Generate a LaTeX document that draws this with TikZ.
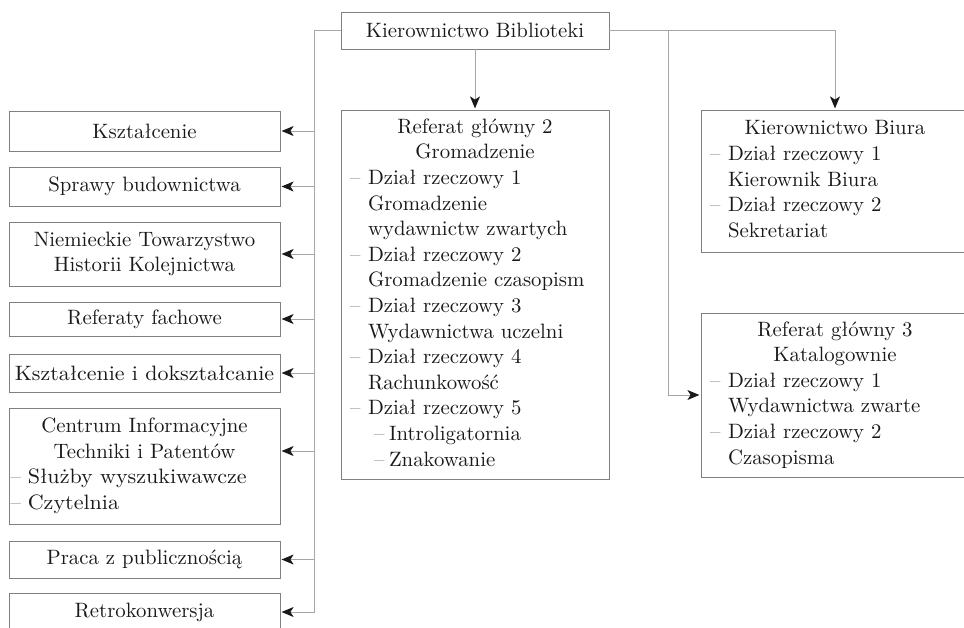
\documentclass[tikz,border=0pt]{standalone}
\usepackage{fontspec}
\usepackage{graphicx}
\usetikzlibrary{arrows.meta}
\newcommand\fs{\fontsize{10.4}{12.8}\selectfont}
\newcommand\myd{\makebox[9pt][l]{\textcolor{black!55}{--}}}
\newcommand\myi{\hspace*{9pt}}
\newcommand\mysd{\hspace*{12pt}\makebox[7.5pt][l]{\textcolor{black!55}{--}}}
\newcommand\blk[1]{\begin{tabular}{@{}l@{}}#1\end{tabular}}
\tikzset{
  box/.style={draw=black!50, line width=0.5pt, inner xsep=2pt, inner ysep=0pt,
    font=\fs, text=black!90, outer sep=0pt},
  lbox/.style={box, minimum width=135.5pt},
  rbox/.style={box, minimum width=134pt},
  ln/.style={draw=black!35, line width=0.5pt},
  arr/.style={ln, -{Stealth[length=6pt,width=5pt,inset=1.6pt,color=black!90]}, shorten >=0.8pt},
}
\begin{document}
\begin{tikzpicture}[x=0.5pt,y=-0.5pt]
\useasboundingbox (0,0) rectangle (964,627);
% top
\node[rbox, minimum height=18.5pt] (top) at (475,30.5) {Kierownictwo Biblioteki};
% middle
\node[rbox, minimum height=184.5pt] (mid) at (475,294.5) {\blk{%
\makebox[125pt]{Referat główny 2}\\
\makebox[125pt]{Gromadzenie}\\
\myd Dział rzeczowy 1\\
\myi Gromadzenie\\
\myi wydawnictw zwartych\\
\myd Dział rzeczowy 2\\
\myi Gromadzenie czasopism\\
\myd Dział rzeczowy 3\\
\myi Wydawnictwa uczelni\\
\myd Dział rzeczowy 4\\
\myi Rachunkowość\\
\myd Dział rzeczowy 5\\
\mysd Introligatornia\\
\mysd Znakowanie}};
% right
\node[rbox, minimum height=71pt] (kb) at (835,181) {\blk{%
\makebox[125pt]{Kierownictwo Biura}\\
\myd Dział rzeczowy 1\\
\myi Kierownik Biura\\
\myd Dział rzeczowy 2\\
\myi Sekretariat}};
\node[rbox, minimum height=82pt] (kat) at (835,395) {\blk{%
\makebox[125pt]{Referat główny 3}\\
\makebox[125pt]{Katalogownie}\\
\myd Dział rzeczowy 1\\
\myi Wydawnictwa zwarte\\
\myd Dział rzeczowy 2\\
\myi Czasopisma}};
% left
\node[lbox, minimum height=20pt] (k1) at (144.5,131) {Kształcenie};
\node[lbox, minimum height=19.5pt] (k2) at (144.5,186.5) {Sprawy budownictwa};
\node[lbox, minimum height=32pt, align=center] (k3) at (144.5,254) {Niemieckie Towarzystwo\\Historii Kolejnictwa};
\node[lbox, minimum height=17pt] (k4) at (144.5,319) {Referaty fachowe};
\node[lbox, minimum height=19pt] (k5) at (144.5,373) {\scalebox{1.055}[1]{Kształcenie i dokształcanie}};
\node[lbox, minimum height=58pt] (k6) at (144.5,466) {\blk{%
\makebox[131pt]{Centrum Informacyjne}\\
\makebox[131pt]{Techniki i Patentów}\\
\hspace*{-1.5pt}\textcolor{black!55}{--} \scalebox{1.06}[1]{Służby wyszukiwawcze}\\
\hspace*{-1.5pt}\textcolor{black!55}{--} \scalebox{1.06}[1]{Czytelnia}}};
\node[lbox, minimum height=18.5pt] (k7) at (144.5,559.5) {Praca z publicznością};
\node[lbox, minimum height=19pt] (k8) at (144.5,612) {Retrokonwersja};
% connectors
\coordinate (bus) at (314,612);
\coordinate (br) at (668,0);
\coordinate (k6a) at ([yshift=7.5pt]k6.east);
\draw[arr] (top.west) -| (bus) -- (k8.east |- bus);
\foreach \n in {k1,k2,k3,k4,k5,k7}{\draw[arr] (bus |- \n.east) -- (\n.east);}
\draw[arr] (bus |- k6a) -- (k6a);
\draw[arr] (top.south) -- (mid.north);
\draw[arr] (top.east) -| (kb.north);
\draw[arr] (br |- top.east) |- (kat.west);
\end{tikzpicture}
\end{document}
